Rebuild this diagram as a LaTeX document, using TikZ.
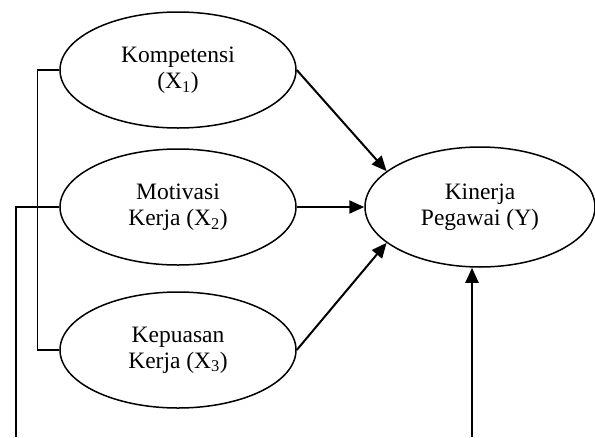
\documentclass[tikz,border=0pt]{standalone}
\usepackage{fontspec}
\setmainfont{Liberation Serif}
\usetikzlibrary{shapes.geometric,arrows.meta}
\begin{document}
\begin{tikzpicture}[x=1pt,y=-1pt,line width=1.5pt,
        var/.style={draw,ellipse,inner sep=0pt,minimum width=236pt,minimum height=116pt,
            align=center,font=\fontsize{23.5}{26}\selectfont},
        panah/.style={line width=2pt,-{Triangle[length=15pt,width=13pt]}}]
    \useasboundingbox (0,0) rectangle (595,437);
    % Nodes
    \node[var] (K) at (178,70) {Kompetensi\\(X\textsubscript{1})};
    \node[var] (M) at (178,207) {Motivasi\\Kerja (X\textsubscript{2})};
    \node[var] (P) at (178,350) {Kepuasan\\Kerja (X\textsubscript{3})};
    \node[var,minimum width=230pt,minimum height=120pt] (Y) at (480,207) {Kinerja\\Pegawai (Y)};
    \coordinate (bawahKiri) at (16,437);
    \coordinate (bawahKanan) at (472,437);

    % Arrows
    \draw[panah] (K.east) -- (Y.159);
    \draw[panah] (M.east) -- (Y.west);
    \draw[panah] (P.east) -- (Y.201);
    \draw[panah] (bawahKanan) -- (bawahKanan |- Y.south);
    \draw (K.west) -- ++(-22,0) |- (P.west);
    \draw (M.west) -| (bawahKiri);
\end{tikzpicture}
\end{document}
